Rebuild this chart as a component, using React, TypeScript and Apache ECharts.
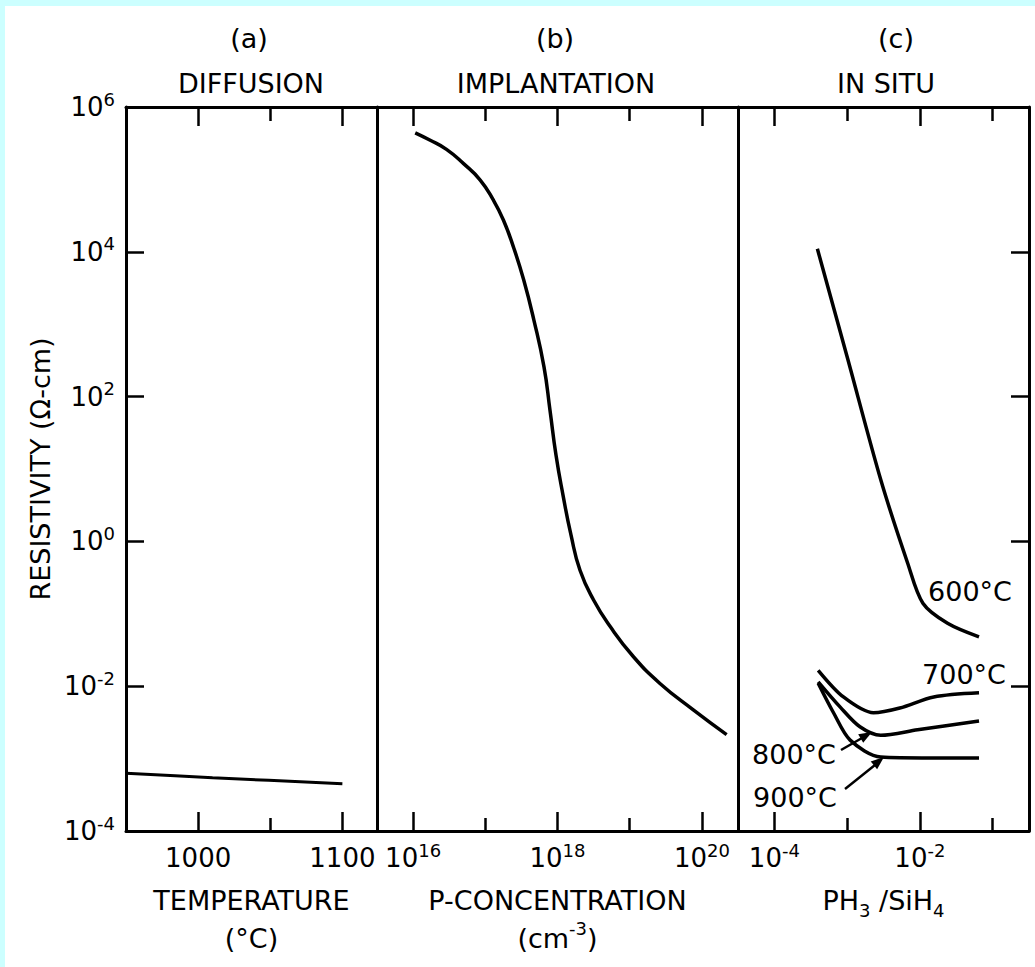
import React, { useEffect, useRef } from 'react';
import * as echarts from 'echarts';

// ---------- data ----------
// (a) diffusion: temperature (°C) vs resistivity (Ω-cm)
const TEMP_C = [950, 1010, 1100];
const RHO_DIFFUSION = [6.3e-4, 5.45e-4, 4.5e-4];

// (b) implantation: P concentration (cm^-3) vs resistivity
const P_CONC = [1.07e16, 1.7e16, 2.9e16, 5.0e16, 8.5e16, 1.29e17, 1.78e17, 2.45e17, 3.4e17, 4.7e17, 6.5e17, 7.87e17, 9.53e17, 1.19e18, 1.54e18, 2.05e18, 3.16e18, 5.4e18, 1.12e19, 2.6e19, 7.6e19, 2.2e20];
const RHO_IMPLANT = [4.4e5, 3.5e5, 2.6e5, 1.65e5, 9.8e4, 5.2e4, 2.75e4, 1.17e4, 4.1e3, 1.15e3, 257, 65, 15.6, 4.4, 1.22, 0.4, 0.155, 0.066, 0.0257, 0.011, 4.7e-3, 2.14e-3];

// (c) in situ: PH3/SiH4 ratio vs resistivity, by deposition temperature
const PH_600 = [3.9e-4, 1.0e-3, 2.9e-3, 6.8e-3, 1.1e-2, 2.4e-2, 6.5e-2];
const RHO_600 = [1.1e4, 355, 7.1, 0.5, 0.14, 0.074, 0.048];
const PH_700 = [4.0e-4, 8.9e-4, 2.3e-3, 5.3e-3, 1.55e-2, 6.5e-2];
const RHO_700 = [0.0166, 7.1e-3, 4.3e-3, 5.0e-3, 7.1e-3, 8.1e-3];
const PH_800 = [4.0e-4, 8.1e-4, 1.5e-3, 2.9e-3, 9.3e-3, 6.5e-2];
const RHO_800 = [0.0115, 5.1e-3, 2.75e-3, 2.1e-3, 2.5e-3, 3.3e-3];
const PH_900 = [4.0e-4, 6.5e-4, 1.1e-3, 2.9e-3, 1.4e-2, 6.5e-2];
const RHO_900 = [0.011, 4.3e-3, 1.8e-3, 1.05e-3, 1.02e-3, 1.02e-3];

// ticks
const TEMP_MAJOR = [1000, 1100];
const TEMP_MINOR = [1050];
const CONC_MAJOR = [1e16, 1e18, 1e20];
const CONC_MINOR = [1e17, 1e19];
const PH_MAJOR = [1e-4, 1e-2];
const PH_MINOR = [1e-3, 1e-1];
const RHO_LABELS = [1e-4, 1e-2, 1, 1e2, 1e4, 1e6];
const RHO_TICKS = [1e-2, 1, 1e2, 1e4];

const FONT = '"DejaVu Sans", "Liberation Sans", Arial, sans-serif';
const INK = '#000';
const CYAN = '#ccffff';

const RICH: any = {
  b: { fontSize: 26, fontFamily: FONT, color: INK, lineHeight: 34 },
  s: { fontSize: 18, fontFamily: FONT, color: INK, lineHeight: 14, verticalAlign: 'top' },
  n: { fontSize: 27, fontFamily: FONT, color: INK, lineHeight: 38 },
  sup: { fontSize: 18, fontFamily: FONT, color: INK, verticalAlign: 'top' },
  sub: { fontSize: 18, fontFamily: FONT, color: INK, verticalAlign: 'bottom' },
};

const pow10Label = (v: number) => {
  const e = Math.round(Math.log10(v));
  return `{b|10}{s|${e < 0 ? '-' + -e : e}}`;
};
const plainLabel = (v: number) => `{b|${v}}`;

const pair = (xs: number[], ys: number[]) => xs.map((x, i) => [x, ys[i]]);

const lineSt = { color: INK, width: 3 };
const tickSt = { color: INK, width: 2.5 };

function xAxesFor(
  gridIndex: number,
  type: 'value' | 'log',
  min: number,
  max: number,
  major: number[],
  minor: number[],
  fmt: (v: number) => string,
  name: string,
) {
  const base: any = { gridIndex, type, min, max, splitLine: { show: false } };
  if (type === 'log') base.logBase = 10;
  return [
    {
      ...base,
      position: 'bottom',
      axisLine: { show: true, onZero: false, lineStyle: lineSt },
      axisTick: { show: true, inside: true, length: 19, customValues: major, lineStyle: tickSt },
      axisLabel: { show: true, customValues: major, formatter: fmt, margin: 10, rich: RICH },
      name,
      nameLocation: 'middle',
      nameGap: 50,
      nameTextStyle: { rich: RICH, fontFamily: FONT, fontSize: 27, color: INK, lineHeight: 38 },
    },
    {
      ...base,
      position: 'bottom',
      axisLine: { show: false, onZero: false },
      axisTick: { show: true, inside: true, length: 13, customValues: minor, lineStyle: tickSt },
      axisLabel: { show: false },
    },
    {
      ...base,
      position: 'top',
      axisLine: { show: true, onZero: false, lineStyle: lineSt },
      axisTick: { show: true, inside: true, length: 19, customValues: major, lineStyle: tickSt },
      axisLabel: { show: false },
    },
    {
      ...base,
      position: 'top',
      axisLine: { show: false, onZero: false },
      axisTick: { show: true, inside: true, length: 14, customValues: minor, lineStyle: tickSt },
      axisLabel: { show: false },
    },
  ];
}

const yBase: any = { type: 'log', logBase: 10, min: 1e-4, max: 1e6, splitLine: { show: false } };

const txt = (text: string, x: number, y: number, size = 27) => ({
  type: 'text',
  x,
  y,
  silent: true,
  style: { text, fontSize: size, fontFamily: FONT, fill: INK, align: 'center', verticalAlign: 'middle' },
});

const curve = (name: string, xAxisIndex: number, yAxisIndex: number, data: number[][], width = 3.5, smooth = 0.3) => ({
  name,
  type: 'line',
  xAxisIndex,
  yAxisIndex,
  data,
  showSymbol: false,
  smooth,
  lineStyle: { color: INK, width },
  itemStyle: { color: INK },
});

export default function App() {
  const ref = useRef<HTMLDivElement>(null);

  useEffect(() => {
    if (!ref.current) return;
    const chart = echarts.init(ref.current, undefined, { renderer: 'svg' });

    const option: any = {
      animation: false,
      backgroundColor: '#ffffff',
      grid: [
        { left: 126, top: 107, width: 251, height: 724, outerBoundsMode: 'none' },
        { left: 377, top: 107, width: 361, height: 724, outerBoundsMode: 'none' },
        { left: 738, top: 107, width: 291, height: 724, outerBoundsMode: 'none' },
      ],
      xAxis: [
        ...xAxesFor(0, 'value', 950, 1124, TEMP_MAJOR, TEMP_MINOR, plainLabel, '{n|TEMPERATURE}\n{n|(°C)}'),
        ...xAxesFor(1, 'log', 3.1623e15, 3.1623e20, CONC_MAJOR, CONC_MINOR, pow10Label, '{n|P-CONCENTRATION}\n{n|(cm}{sup|-3}{n|)}'),
        ...xAxesFor(2, 'log', 3.1623e-5, 3.1623e-1, PH_MAJOR, PH_MINOR, pow10Label, '{n|PH}{sub|3}{n| /SiH}{sub|4}'),
      ],
      yAxis: [
        {
          ...yBase,
          gridIndex: 0,
          position: 'left',
          axisLine: { show: true, lineStyle: lineSt },
          axisTick: { show: true, inside: true, length: 18, customValues: RHO_TICKS, lineStyle: tickSt },
          axisLabel: { show: true, customValues: RHO_LABELS, formatter: pow10Label, margin: 11, rich: RICH },
          name: 'RESISTIVITY (Ω-cm)',
          nameLocation: 'middle',
          nameRotate: 90,
          nameGap: 72,
          nameTextStyle: { fontFamily: FONT, fontSize: 27, color: INK },
        },
        {
          ...yBase,
          gridIndex: 1,
          position: 'left',
          axisLine: { show: true, lineStyle: lineSt },
          axisTick: { show: false },
          axisLabel: { show: false },
        },
        {
          ...yBase,
          gridIndex: 2,
          position: 'left',
          axisLine: { show: true, lineStyle: lineSt },
          axisTick: { show: false },
          axisLabel: { show: false },
        },
        {
          ...yBase,
          gridIndex: 2,
          position: 'right',
          axisLine: { show: true, lineStyle: lineSt },
          axisTick: { show: true, inside: true, length: 18, customValues: RHO_TICKS, lineStyle: tickSt },
          axisLabel: { show: false },
        },
      ],
      series: [
        curve('Diffusion', 0, 0, pair(TEMP_C, RHO_DIFFUSION), 3),
        curve('Implantation', 4, 1, pair(P_CONC, RHO_IMPLANT), 3.5, 0.5),
        curve('600°C', 8, 2, pair(PH_600, RHO_600)),
        curve('700°C', 8, 2, pair(PH_700, RHO_700)),
        curve('800°C', 8, 2, pair(PH_800, RHO_800)),
        curve('900°C', 8, 2, pair(PH_900, RHO_900)),
      ],
      graphic: [
        { type: 'rect', silent: true, shape: { x: 0, y: 0, width: 1035, height: 6 }, style: { fill: CYAN } },
        { type: 'rect', silent: true, shape: { x: 0, y: 0, width: 5, height: 967 }, style: { fill: CYAN } },
        txt('(a)', 249, 38),
        txt('DIFFUSION', 251, 83),
        txt('(b)', 555, 38),
        txt('IMPLANTATION', 556, 83),
        txt('(c)', 896, 38),
        txt('IN SITU', 886, 83),
        txt('600°C', 970, 591),
        txt('700°C', 964, 674),
        txt('800°C', 794, 754),
        txt('900°C', 795, 797),
        { type: 'line', silent: true, shape: { x1: 841, y1: 750, x2: 862, y2: 738 }, style: { stroke: INK, lineWidth: 2.5 } },
        { type: 'polygon', silent: true, shape: { points: [[872, 732], [863.2, 742.8], [858.2, 734.2]] }, style: { fill: INK } },
        { type: 'line', silent: true, shape: { x1: 845, y1: 789, x2: 875, y2: 765 }, style: { stroke: INK, lineWidth: 2.5 } },
        { type: 'polygon', silent: true, shape: { points: [[884, 757], [877.1, 769.2], [870.7, 761.4]] }, style: { fill: INK } },
      ],
    };

    chart.setOption(option);
    return () => chart.dispose();
  }, []);

  return (
    <div
      ref={ref}
      style={{ position: 'absolute', left: 0, top: 0, width: 1035, height: 967, background: '#fff' }}
    />
  );
}
